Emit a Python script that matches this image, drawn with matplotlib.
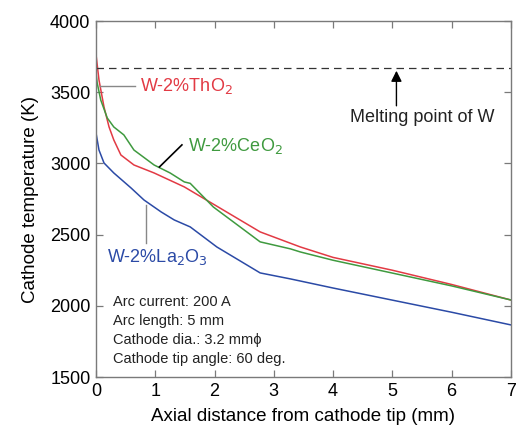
import numpy as np
import matplotlib
matplotlib.use('Agg')
import matplotlib.pyplot as plt

plt.rcParams['font.family'] = ['Liberation Sans', 'DejaVu Sans']

# Dados (distancia em mm, temperatura em K)
x_tho2 = [0, 0.05, 0.135, 0.22, 0.30, 0.42, 0.64, 0.98, 1.49, 2.09, 2.77, 3.45, 4.0, 5.0, 6.0, 7.0]
T_tho2 = [3765, 3586, 3396, 3256, 3165, 3059, 2989, 2933, 2835, 2687, 2519, 2413, 2340, 2250, 2150, 2041]

x_ceo2 = [0, 0.02, 0.08, 0.19, 0.30, 0.47, 0.64, 0.98, 1.25, 1.49, 1.59, 1.98, 2.77, 3.28, 3.45, 4.0, 5.0, 6.0, 7.0]
T_ceo2 = [3635, 3565, 3445, 3319, 3256, 3200, 3094, 2989, 2933, 2870, 2860, 2694, 2449, 2400, 2378, 2320, 2230, 2140, 2041]

x_la2o3 = [0, 0.05, 0.135, 0.30, 0.59, 0.81, 1.10, 1.32, 1.59, 2.04, 2.77, 3.28, 4.0, 5.0, 6.0, 7.0]
T_la2o3 = [3214, 3094, 3003, 2933, 2828, 2743, 2659, 2603, 2554, 2413, 2231, 2189, 2125, 2040, 1955, 1866]

T_melt = 3670

info = ['Arc current: 200 A', 'Arc length: 5 mm', 'Cathode dia.: 3.2 mm\u03d5', 'Cathode tip angle: 60 deg.']

c_red = '#e23a44'
c_green = '#3f9a3f'
c_blue = '#2b4aa6'
c_frame = '#7a7a7a'

fig = plt.figure(figsize=(5.17, 4.33), dpi=100)
ax = fig.add_axes([0.1857, 0.1293, 0.8023, 0.8222])

ax.plot(x_tho2, T_tho2, color=c_red, lw=1.1)
ax.plot(x_ceo2, T_ceo2, color=c_green, lw=1.1)
ax.plot(x_la2o3, T_la2o3, color=c_blue, lw=1.1)
ax.axhline(T_melt, color='#333333', lw=0.9, dashes=(6, 4))

ax.set_xlim(0, 7)
ax.set_ylim(1500, 4000)
ax.set_xticks(range(0, 8))
ax.set_yticks(range(1500, 4001, 500))
ax.tick_params(direction='in', top=True, right=True, length=5, width=0.9, color=c_frame,
               labelsize=13, pad=4)
for s in ax.spines.values():
    s.set_color(c_frame)
    s.set_linewidth(1.0)

ax.set_xlabel('Axial distance from cathode tip (mm)', fontsize=13.5, labelpad=6)
ax.set_ylabel('Cathode temperature (K)', fontsize=13.5, labelpad=8)

# Rotulos das curvas
ax.plot([0.07, 0.65], [3545, 3545], color='#888888', lw=1.0)
ax.text(0.75, 3545, 'W-2%ThO$_2$', color=c_red, fontsize=13, va='center', ha='left')
ax.plot([1.07, 1.45], [2975, 3130], color='black', lw=1.2)
ax.text(1.55, 3125, 'W-2%CeO$_2$', color=c_green, fontsize=13, va='center', ha='left')
ax.plot([0.84, 0.84], [2705, 2440], color='#888888', lw=1.0)
ax.text(0.18, 2345, 'W-2%La$_2$O$_3$', color=c_blue, fontsize=13, va='center', ha='left')

ax.annotate('', xy=(5.07, T_melt), xytext=(5.07, 3385),
            arrowprops=dict(arrowstyle='-|>', color='black', lw=1.0, mutation_scale=16))
ax.text(5.5, 3320, 'Melting point of W', fontsize=13, ha='center', va='center', color='#222222')

for i, linha in enumerate(info):
    ax.text(0.29, 2027 - i * 133, linha, fontsize=10.5, ha='left', va='center', color='#222222')

plt.savefig('out.png', dpi=100)
plt.close()
